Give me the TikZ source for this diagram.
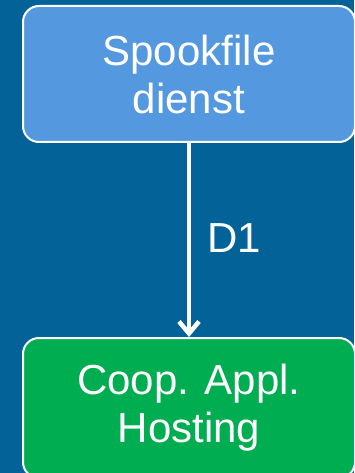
\documentclass[tikz,border=0pt]{standalone}
\usepackage{fontspec}
\setmainfont{Liberation Sans}
\usetikzlibrary{arrows.meta}
\definecolor{bgblue}{RGB}{3,99,153}
\definecolor{boxblue}{RGB}{84,153,223}
\definecolor{boxgreen}{RGB}{0,173,80}
\tikzset{
  procbox/.style={draw=white, line width=2pt, rounded corners=16pt, text=white,
    align=center, inner sep=0pt, minimum width=332pt,
    font=\fontsize{42}{48}\selectfont},
  flowarrow/.style={draw=white, line width=4.5pt, -{Straight Barb[length=12pt,width=20pt]}},
  flowlabel/.style={text=white, inner sep=0pt, font=\fontsize{42}{48}\selectfont}
}
\begin{document}
\begin{tikzpicture}[x=1pt,y=-1pt]
\useasboundingbox (0,0) rectangle (354,473);
\fill[bgblue] (0,0) rectangle (354,473);
\node[procbox, fill=boxblue, minimum height=136pt] (spook) at (189,74) {Spookfile\\dienst};
\node[procbox, fill=boxgreen, minimum height=140pt] (coop) at (189,408) {Coop. Appl.\\Hosting};
\draw[flowarrow] (spook.south) -- (coop.north);
\node[flowlabel] (d1) at (234.5,238) {D1};
\end{tikzpicture}
\end{document}
